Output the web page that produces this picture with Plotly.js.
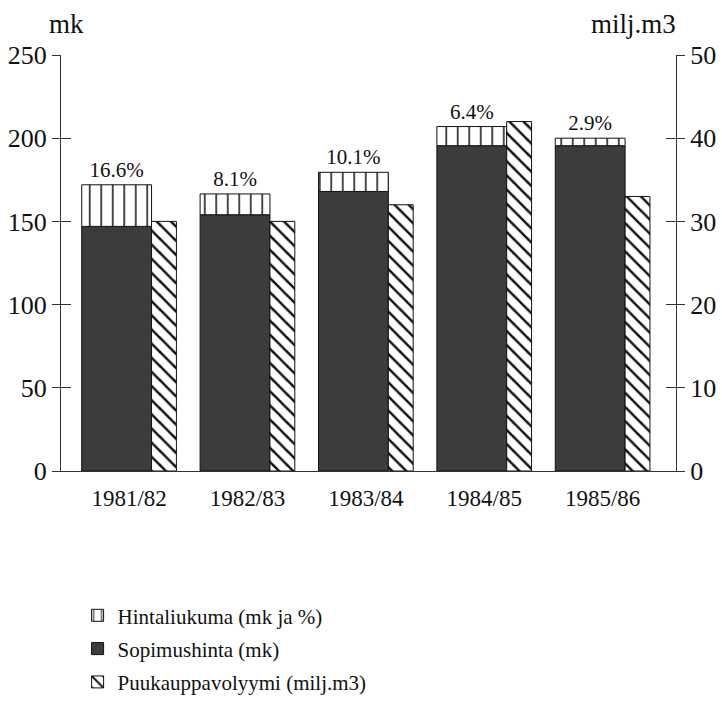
<!DOCTYPE html>
<html>
<head>
<meta charset="utf-8">
<script src="https://cdn.plot.ly/plotly-3.0.1.min.js"></script>
<style>
  html, body { margin: 0; padding: 0; background: #fff; }
  #chart { width: 722px; height: 706px; }
</style>
</head>
<body>
<div id="chart"></div>
<script>
// Harvesting seasons
const seasons = ['1981/82', '1982/83', '1983/84', '1984/85', '1985/86'];

// Contract price, mk
const sopimushinta = [147, 154, 168, 195.5, 195.5];
// Price drift on top of the contract price, mk
const hintaliukuma = [25, 12.5, 11.5, 11.5, 4.5];
// Price drift as a share of the contract price
const liukumaPct = ['16.6%', '8.1%', '10.1%', '6.4%', '2.9%'];
// Roundwood trade volume, million m3
const volyymi = [30, 30, 32, 42, 33];

// Left axis ticks (mk) and right axis ticks (milj.m3)
const mkTicks = [0, 50, 100, 150, 200, 250];
const m3Ticks = [0, 10, 20, 30, 40, 50];

const serif = 'Liberation Serif';
const ink = '#111';
const axisInk = '#333';
const xRange = [-0.575, 4.62];

const traces = [
  {
    type: 'bar', name: 'Sopimushinta (mk)', x: seasons, y: sopimushinta,
    xaxis: 'x', yaxis: 'y',
    width: 0.59, offset: -0.40,
    marker: { color: '#3c3c3c', line: { color: ink, width: 1 } },
    legendrank: 2, legendgroup: 'b', hoverinfo: 'skip'
  },
  {
    type: 'bar', name: 'Hintaliukuma (mk ja %)', x: seasons, y: hintaliukuma,
    base: sopimushinta,
    xaxis: 'x', yaxis: 'y',
    width: 0.59, offset: -0.40,
    text: liukumaPct, textposition: 'outside', cliponaxis: false,
    textfont: { family: serif, size: 21, color: ink },
    marker: {
      color: '#ffffff',
      line: { color: ink, width: 1 },
      pattern: { shape: '|', fgcolor: ink, bgcolor: '#ffffff', size: 11.5, solidity: 0.13 }
    },
    legendrank: 1, legendgroup: 'a', hoverinfo: 'skip'
  },
  {
    type: 'bar', name: 'Puukauppavolyymi (milj.m3)', x: seasons, y: volyymi,
    xaxis: 'x', yaxis: 'y2',
    width: 0.21, offset: 0.19,
    marker: {
      color: '#ffffff',
      line: { color: ink, width: 1 },
      pattern: { shape: '\\', fgcolor: ink, bgcolor: '#ffffff', size: 10, solidity: 0.25 }
    },
    legendrank: 3, legendgroup: 'c', hoverinfo: 'skip'
  },
  // carriers for the inner halves of the cross-shaped ticks
  { type: 'scatter', mode: 'markers', x: [seasons[0]], y: [null], xaxis: 'x', yaxis: 'y3', showlegend: false, hoverinfo: 'skip' },
  { type: 'scatter', mode: 'markers', x: [seasons[0]], y: [null], xaxis: 'x', yaxis: 'y4', showlegend: false, hoverinfo: 'skip' }
];

const layout = {
  width: 722, height: 706,
  margin: { l: 61, r: 46, t: 55, b: 235, autoexpand: false },
  paper_bgcolor: '#fff', plot_bgcolor: '#fff',
  font: { family: serif, color: ink },
  barmode: 'overlay',
  showlegend: true,
  legend: {
    x: 0.027, xanchor: 'left', y: 0.157, yanchor: 'top',
    xref: 'paper', yref: 'container',
    font: { family: serif, size: 21, color: ink },
    traceorder: 'grouped', tracegroupgap: 3,
    bgcolor: 'rgba(0,0,0,0)'
  },
  xaxis: {
    type: 'category', range: xRange,
    showline: true, linecolor: axisInk, linewidth: 1,
    ticks: '', showgrid: false, zeroline: false,
    tickfont: { family: serif, size: 23, color: ink },
    ticklabelstandoff: 6
  },
  yaxis: {
    range: [0, 250], tickvals: mkTicks, ticktext: mkTicks.map(String),
    showline: true, linecolor: axisInk, linewidth: 1,
    ticks: 'outside', ticklen: 8, tickcolor: axisInk, tickwidth: 1,
    showgrid: false, zeroline: false,
    tickfont: { family: serif, size: 26, color: ink }
  },
  yaxis2: {
    range: [0, 50], tickvals: m3Ticks, ticktext: m3Ticks.map(String),
    overlaying: 'y', side: 'right', anchor: 'x',
    showline: true, linecolor: axisInk, linewidth: 1,
    ticks: 'outside', ticklen: 8, tickcolor: axisInk, tickwidth: 1,
    showgrid: false, zeroline: false,
    tickfont: { family: serif, size: 26, color: ink }
  },
  yaxis3: {
    range: [0, 250], tickvals: mkTicks, overlaying: 'y', side: 'left', anchor: 'x',
    ticks: 'inside', ticklen: 10, tickcolor: axisInk, tickwidth: 1,
    showticklabels: false, showline: false, showgrid: false, zeroline: false
  },
  yaxis4: {
    range: [0, 50], tickvals: m3Ticks, overlaying: 'y', side: 'right', anchor: 'x',
    ticks: 'inside', ticklen: 10, tickcolor: axisInk, tickwidth: 1,
    showticklabels: false, showline: false, showgrid: false, zeroline: false
  },
  annotations: [
    {
      text: 'mk', xref: 'paper', yref: 'paper', x: 0, y: 1,
      xanchor: 'center', yanchor: 'bottom', xshift: 5, yshift: 14,
      showarrow: false, font: { family: serif, size: 27, color: ink }
    },
    {
      text: 'milj.m3', xref: 'paper', yref: 'paper', x: 1, y: 1,
      xanchor: 'right', yanchor: 'bottom', xshift: 2, yshift: 14,
      showarrow: false, font: { family: serif, size: 27, color: ink }
    }
  ]
};

Plotly.newPlot('chart', traces, layout, { staticPlot: true, displayModeBar: false });
</script>
</body>
</html>
